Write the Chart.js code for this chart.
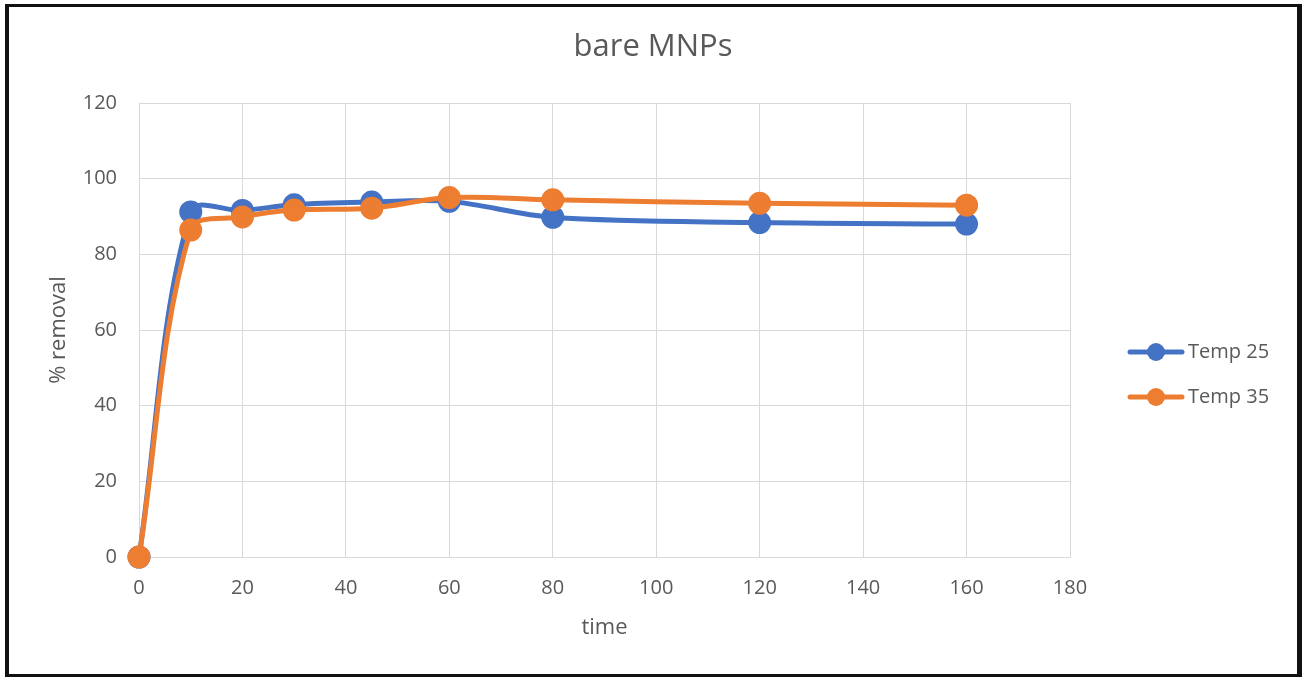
<!DOCTYPE html>
<html>
<head>
<meta charset="utf-8">
<title>bare MNPs</title>
<script src="https://cdn.jsdelivr.net/npm/chart.js@4"></script>
<style>
  html, body { margin: 0; padding: 0; background: #fff; }
  #frame {
    position: absolute; left: 5px; top: 4px; width: 1297px; height: 673px;
    background: #111;
  }
  #paper {
    position: absolute; left: 4px; top: 3px; width: 1288px; height: 667px;
    background: #fff;
  }
  #chartBox { position: absolute; left: 0; top: 0; width: 1302px; height: 677px; }
</style>
</head>
<body>
<div id="frame"><div id="paper"></div></div>
<div id="chartBox"><canvas id="removalChart" width="1302" height="677"></canvas></div>
<script>
// sampling times and % removal at each temperature
const times = [0, 10, 20, 30, 45, 60, 80, 120, 160];
const temp25 = [0, 91.2, 91.6, 93.1, 93.8, 94.0, 89.8, 88.4, 88.0];
const temp35 = [0, 86.4, 89.9, 91.7, 92.2, 95.0, 94.4, 93.5, 93.0];
const xTicks = [0, 20, 40, 60, 80, 100, 120, 140, 160, 180];
const yTicks = [0, 20, 40, 60, 80, 100, 120];

const FONT = '"Open Sans", sans-serif';
const TEXT = '#595959';
const BLUE = '#4472C4';
const ORANGE = '#ED7D31';

function toPoints(ys) {
    return times.map((t, i) => ({ x: t, y: ys[i] }));
}

// title, axis titles and legend drawn on top of the chart
const decorations = {
    id: 'decorations',
    afterDraw(chart) {
        const ctx = chart.ctx;
        const area = chart.chartArea;
        ctx.save();
        ctx.fillStyle = TEXT;
        ctx.textAlign = 'center';
        ctx.textBaseline = 'middle';

        ctx.font = '31px ' + FONT;
        ctx.fillText('bare MNPs', 653, 47);

        ctx.font = '22px ' + FONT;
        ctx.fillText('time', (area.left + area.right) / 2, 628);

        ctx.save();
        ctx.translate(59, (area.top + area.bottom) / 2);
        ctx.rotate(-Math.PI / 2);
        ctx.fillText('% removal', 0, 0);
        ctx.restore();

        // legend
        ctx.textAlign = 'left';
        ctx.font = '20px ' + FONT;
        chart.data.datasets.forEach((ds, i) => {
            const y = 352 + i * 45;
            ctx.strokeStyle = ds.borderColor;
            ctx.lineWidth = 5;
            ctx.lineCap = 'round';
            ctx.beginPath();
            ctx.moveTo(1130, y);
            ctx.lineTo(1182, y);
            ctx.stroke();
            ctx.fillStyle = ds.backgroundColor;
            ctx.beginPath();
            ctx.arc(1156, y, 9, 0, Math.PI * 2);
            ctx.fill();
            ctx.fillStyle = TEXT;
            ctx.fillText(ds.label, 1188, y);
        });
        ctx.restore();
    }
};

new Chart(document.getElementById('removalChart'), {
    type: 'line',
    data: {
        datasets: [
            {
                label: 'Temp 25',
                data: toPoints(temp25),
                borderColor: BLUE,
                backgroundColor: BLUE,
                borderWidth: 5,
                pointRadius: 9,
                pointHoverRadius: 9,
                tension: 0.35,
                clip: false,
                order: 2
            },
            {
                label: 'Temp 35',
                data: toPoints(temp35),
                borderColor: ORANGE,
                backgroundColor: ORANGE,
                borderWidth: 5,
                pointRadius: 9,
                pointHoverRadius: 9,
                tension: 0.35,
                clip: false,
                order: 1
            }
        ]
    },
    options: {
        responsive: false,
        animation: false,
        layout: { padding: { left: 0, top: 103, right: 232, bottom: 0 } },
        plugins: {
            legend: { display: false },
            title: { display: false },
            tooltip: { enabled: false }
        },
        scales: {
            x: {
                type: 'linear',
                min: 0,
                max: 180,
                afterBuildTicks: s => { s.ticks = xTicks.map(v => ({ value: v })); },
                afterFit: s => { s.height = 120; },
                grid: { color: '#D9D9D9', lineWidth: 1, drawTicks: false },
                border: { color: '#D9D9D9' },
                ticks: { color: TEXT, font: { family: FONT, size: 20 }, padding: 19, maxRotation: 0 }
            },
            y: {
                min: 0,
                max: 120,
                afterBuildTicks: s => { s.ticks = yTicks.map(v => ({ value: v })); },
                afterFit: s => { s.width = 139; },
                grid: { color: '#D9D9D9', lineWidth: 1, drawTicks: false },
                border: { color: '#D9D9D9' },
                ticks: { color: TEXT, font: { family: FONT, size: 20 }, padding: 22 }
            }
        }
    },
    plugins: [decorations]
});
</script>
</body>
</html>
